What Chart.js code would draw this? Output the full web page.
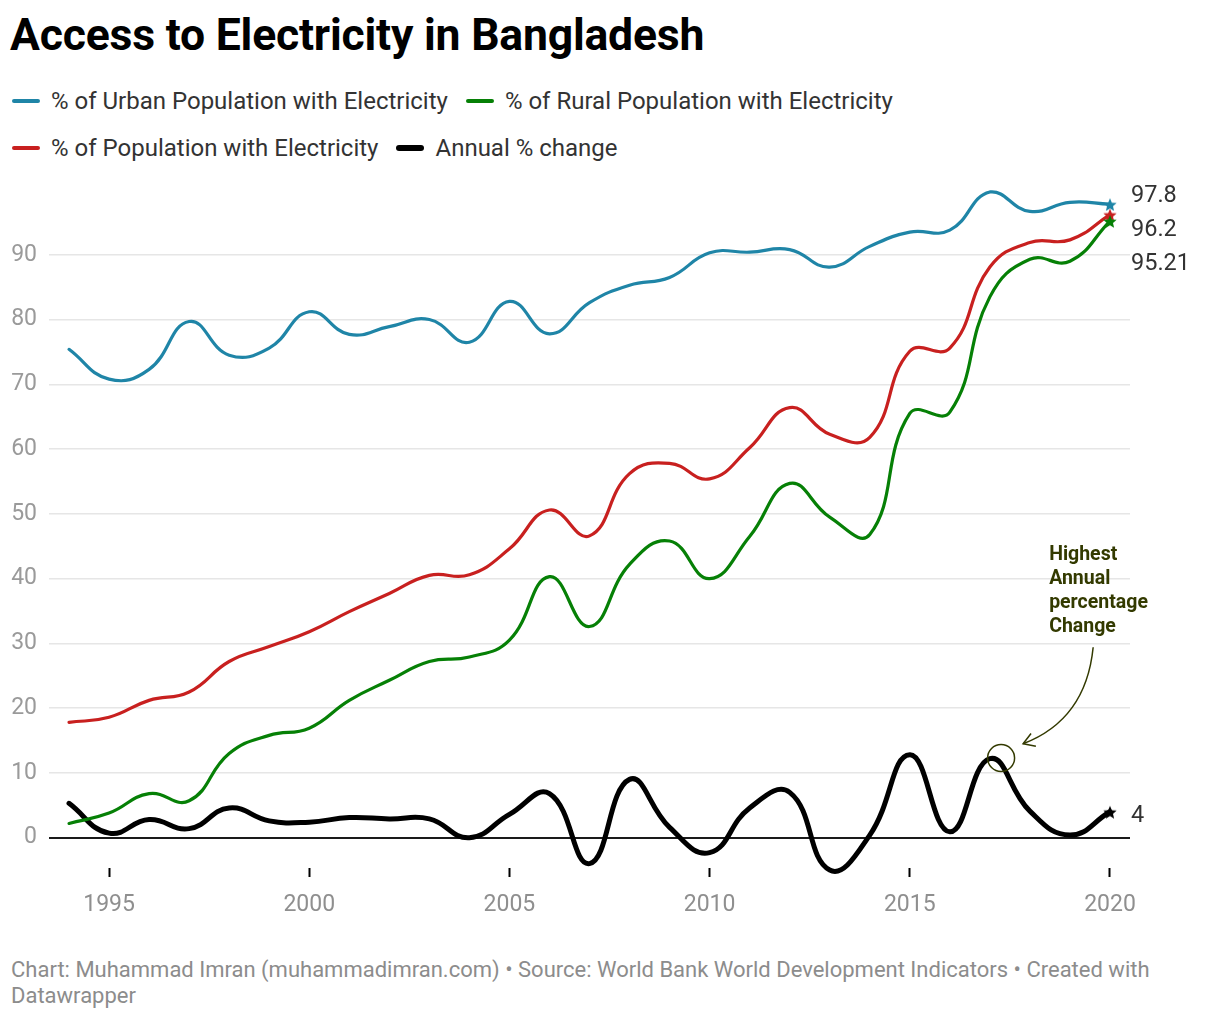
<!DOCTYPE html>
<html>
<head>
<meta charset="utf-8">
<title>Access to Electricity in Bangladesh</title>
<script src="https://cdn.jsdelivr.net/npm/chart.js@4.4.0/dist/chart.umd.min.js"></script>
<style>
  body { margin: 0; background: #fff; font-family: Roboto, "Noto Sans", sans-serif; }
  #wrap { position: relative; width: 1220px; height: 1020px; overflow: hidden; }
  h1 { position: absolute; left: 10px; top: 9px; margin: 0; font-size: 44.5px; line-height: 52px; font-weight: 700; color: #000; letter-spacing: -0.2px; }
  .legend { position: absolute; left: 12px; height: 30px; display: flex; align-items: center; font-size: 24px; color: #333; }
  .item { display: flex; align-items: center; margin-right: 18px; }
  .sw { width: 28px; height: 4px; border-radius: 2px; margin-right: 11px; }
  canvas { position: absolute; left: 0; top: 0; }
  .foot { position: absolute; left: 11px; top: 957px; width: 1170px; font-size: 22px; line-height: 26px; color: #8c8c8c; }
</style>
</head>
<body>
<div id="wrap">
  <h1>Access to Electricity in Bangladesh</h1>
  <div class="legend" id="leg1" style="top:86px"></div>
  <div class="legend" id="leg2" style="top:133px"></div>
  <canvas id="chart" width="1220" height="918"></canvas>
  <div class="foot">Chart: Muhammad Imran (muhammadimran.com) • Source: World Bank World Development Indicators • Created with Datawrapper</div>
</div>
<script>
// ---------- Data ----------
const years = [1994, 1995, 1996, 1997, 1998, 1999, 2000, 2001, 2002, 2003, 2004, 2005, 2006, 2007,
               2008, 2009, 2010, 2011, 2012, 2013, 2014, 2015, 2016, 2017, 2018, 2019, 2020];
const urban = [75.4, 70.8, 72.3, 79.7, 74.5, 75.6, 81.2, 77.7, 78.9, 80.0, 76.5, 82.8, 77.8, 82.6,
               85.3, 86.5, 90.3, 90.4, 90.8, 88.1, 91.3, 93.5, 93.8, 99.7, 96.7, 98.1, 97.8];
const rural = [2.2, 3.8, 6.8, 5.7, 13.0, 15.8, 16.9, 21.2, 24.3, 27.2, 27.9, 30.5, 40.3, 32.6,
               42.2, 45.8, 40.0, 46.5, 54.7, 49.5, 46.8, 65.5, 65.7, 83.5, 89.3, 89.0, 95.21];
const total = [17.8, 18.6, 21.2, 22.5, 27.2, 29.5, 31.8, 34.9, 37.7, 40.5, 40.6, 44.6, 50.6, 46.6,
               56.2, 57.8, 55.4, 60.2, 66.4, 62.3, 61.8, 75.1, 75.6, 88.1, 91.9, 92.3, 96.2];
const change = [5.3, 0.7, 2.8, 1.4, 4.6, 2.6, 2.4, 3.1, 2.9, 2.9, 0.0, 3.6, 6.8, -4.0,
                9.0, 1.6, -2.3, 4.6, 7.0, -5.0, 0.4, 12.8, 0.9, 12.2, 4.1, 0.4, 4.0];

const seriesNames = ["% of Urban Population with Electricity", "% of Rural Population with Electricity",
                     "% of Population with Electricity", "Annual % change"];
const seriesColors = ["#1f85a7", "#068006", "#c8201f", "#000000"];
const endLabels = ["97.8", "95.21", "96.2", "4"];
const yTicks = [0, 10, 20, 30, 40, 50, 60, 70, 80, 90];
const xTicks = [1995, 2000, 2005, 2010, 2015, 2020];

// annotation, in data units
const note = { lines: ["Highest", "Annual", "percentage", "Change"], x: 2018.48, y: 43.6 };
const ring = { x: 2017.28, y: 12.3 };
const arrow = { from: [2019.58, 29.4], ctrl: [2019.4, 18.2], to: [2017.83, 14.5] };

// ---------- Legend ----------
const legendRows = [[0, 1], [2, 3]];
legendRows.forEach((row, r) => {
    const box = document.getElementById(r ? "leg2" : "leg1");
    row.forEach(i => {
        const it = document.createElement("div");
        it.className = "item";
        const sw = document.createElement("span");
        sw.className = "sw";
        sw.style.background = seriesColors[i];
        if (i === 3) { sw.style.height = "6px"; sw.style.borderRadius = "3px"; }
        it.append(sw, document.createTextNode(seriesNames[i]));
        box.append(it);
    });
});

// ---------- Helpers ----------
function starImg(color, size) {
    const c = document.createElement("canvas");
    c.width = c.height = size;
    const g = c.getContext("2d");
    const R = size / 2, r = R * 0.45;
    g.fillStyle = color;
    g.beginPath();
    for (let i = 0; i < 10; i++) {
        const a = -Math.PI / 2 + i * Math.PI / 5, rr = i % 2 ? r : R;
        g.lineTo(R + rr * Math.cos(a), R + 1 + rr * Math.sin(a));
    }
    g.closePath();
    g.fill();
    return c;
}

const last = years.length - 1;
const mk = (i, data, width) => {
    const star = starImg(seriesColors[i], 14);
    return {
        label: seriesNames[i],
        data: years.map((y, k) => ({ x: y, y: data[k] })),
        borderColor: seriesColors[i],
        backgroundColor: seriesColors[i],
        borderWidth: width,
        tension: 0.45,
        clip: false,
        borderCapStyle: "round",
        borderJoinStyle: "round",
        pointRadius: c => c.dataIndex === last ? 6 : 0,
        pointHoverRadius: 0,
        pointStyle: c => c.dataIndex === last ? star : "circle"
    };
};

// end-of-line value labels, pushed apart so they do not overlap
const endLabelPlugin = {
    id: "endLabels",
    afterDatasetsDraw(chart) {
        const { ctx, chartArea } = chart;
        const items = chart.data.datasets.map((d, i) => {
            const p = chart.getDatasetMeta(i).data[last];
            return { text: endLabels[i], y: p.y, i };
        });
        const top = items.filter(o => o.i < 3).sort((a, b) => a.y - b.y);
        let prev = -Infinity;
        top.forEach((o, k) => {
            let y = k === 0 ? o.y - 8 : o.y;
            y = Math.max(y, prev + 34);
            o.ly = y; prev = y;
        });
        items[3].ly = items[3].y + 4;
        ctx.save();
        ctx.font = "23.5px Roboto, 'Noto Sans', sans-serif";
        ctx.fillStyle = "#333";
        ctx.textAlign = "left";
        ctx.textBaseline = "middle";
        items.forEach(o => ctx.fillText(o.text, chartArea.right + 1, o.ly));
        ctx.restore();
    }
};

const annotationPlugin = {
    id: "note",
    afterDatasetsDraw(chart) {
        const { ctx, scales: { x, y } } = chart;
        const col = "#333a00";
        ctx.save();
        ctx.strokeStyle = col;
        ctx.lineWidth = 1.5;
        // ring
        ctx.beginPath();
        ctx.arc(x.getPixelForValue(ring.x), y.getPixelForValue(ring.y), 13.5, 0, Math.PI * 2);
        ctx.stroke();
        // curved arrow
        const P = a => [x.getPixelForValue(a[0]), y.getPixelForValue(a[1])];
        const [x0, y0] = P(arrow.from), [cx, cy] = P(arrow.ctrl), [x1, y1] = P(arrow.to);
        ctx.beginPath();
        ctx.moveTo(x0, y0);
        ctx.quadraticCurveTo(cx, cy, x1, y1);
        ctx.stroke();
        const ang = Math.atan2(y1 - cy, x1 - cx);
        ctx.beginPath();
        ctx.moveTo(x1 - 13 * Math.cos(ang - 0.55), y1 - 13 * Math.sin(ang - 0.55));
        ctx.lineTo(x1, y1);
        ctx.lineTo(x1 - 13 * Math.cos(ang + 0.55), y1 - 13 * Math.sin(ang + 0.55));
        ctx.stroke();
        // text
        ctx.fillStyle = col;
        ctx.font = "bold 19.5px Roboto, 'Noto Sans', sans-serif";
        ctx.textAlign = "left";
        ctx.textBaseline = "middle";
        const tx = x.getPixelForValue(note.x), ty = y.getPixelForValue(note.y);
        note.lines.forEach((t, k) => ctx.fillText(t, tx, ty + k * 24));
        ctx.restore();
    }
};

// ---------- Chart ----------
const tickFont = { family: "Roboto, 'Noto Sans', sans-serif", size: 23 };
new Chart(document.getElementById("chart"), {
    type: "line",
    data: {
        datasets: [
            mk(0, urban, 3.2),
            mk(1, rural, 3.2),
            mk(2, total, 3.2),
            mk(3, change, 5)
        ]
    },
    options: {
        responsive: false,
        animation: false,
        events: [],
        layout: { padding: { top: 190, right: 90, left: 0, bottom: 0 } },
        plugins: { legend: { display: false }, tooltip: { enabled: false } },
        scales: {
            x: {
                type: "linear",
                min: 1993.5,
                max: 2020.5,
                afterBuildTicks: s => { s.ticks = xTicks.map(v => ({ value: v })); },
                afterFit: s => { s.height = 50; },
                ticks: { callback: v => String(v), color: "#8f8f8f", font: tickFont, padding: 14, maxRotation: 0 },
                grid: { drawOnChartArea: false, drawTicks: true, tickLength: 9, tickWidth: 2, tickColor: "#000" },
                border: { display: false }
            },
            y: {
                min: -4.68,
                max: 100,
                afterBuildTicks: s => { s.ticks = yTicks.map(v => ({ value: v })); },
                afterFit: s => { s.width = 49; },
                ticks: { color: "#9a9a9a", font: tickFont, padding: 12 },
                grid: {
                    drawTicks: false,
                    color: c => c.tick && c.tick.value === 0 ? "#1a1a1a" : "#e6e6e6",
                    lineWidth: c => c.tick && c.tick.value === 0 ? 2 : 1.5
                },
                border: { display: false }
            }
        }
    },
    plugins: [endLabelPlugin, annotationPlugin]
});
</script>
</body>
</html>
